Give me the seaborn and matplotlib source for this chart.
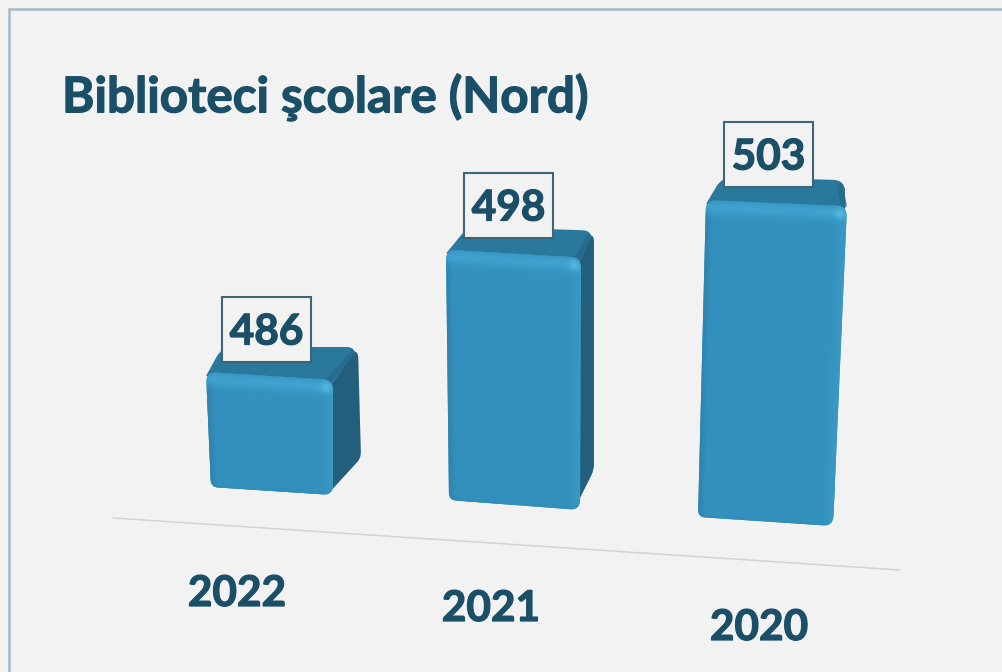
import numpy as np
import pandas as pd
import seaborn as sns
import matplotlib
matplotlib.use('Agg')
import matplotlib.pyplot as plt
import matplotlib.patheffects as pe
from matplotlib.colors import to_rgb
from matplotlib.patches import PathPatch, Rectangle
from matplotlib.path import Path

# chart values
years = ['2022', '2021', '2020']
values = [486, 498, 503]
title = 'Biblioteci şcolare (Nord)'

W, H = 1002, 672
BASE = 476          # value where the bars start
PX_PER_UNIT = 11.7
BASE_PX = 505

BG = '#f2f2f2'
TEXT = '#1b4f68'
FRONT = '#3491bd'
TOP_FACE = '#2a789c'
SIDE_FACE = '#235f7c'

# perspective: corner shifts of each front face (TL, TR, BR, BL), in pixels
front_shift = [
    [(1, -16), (-2, -8), (-2, -10), (6, -18)],
    [(-9, 2), (-4, 10), (-5, 5), (-6, -5)],
    [(1, 11), (12, 17), (-2, 21), (-7, 12)],
]
# back corners relative to the front TL / TR / BR corner
back_shift = [
    [(16, -25), (25, -33), (28, -37)],
    [(22, -23), (13, -27), (14, -40)],
    [(16, -23), (-2, -26), (0, -60)],
]
label_pos = [(266.5, 329.5), (508.5, 205.5), (768.5, 154.5)]
year_pos = [(237, 594), (491, 609), (759, 628)]

# a thin stroke brings Lato Bold up to the weight of the original face
heavy = [pe.withStroke(linewidth=0.9, foreground=TEXT)]


def rounded(points, radii):
    # closed polygon with quadratic rounded corners
    pts = [np.array(p, dtype=float) for p in points]
    n = len(pts)
    verts, codes = [], []
    for i in range(n):
        prev, cur, nxt = pts[i - 1], pts[i], pts[(i + 1) % n]
        r = radii[i]
        a = cur + (prev - cur) / np.linalg.norm(prev - cur) * r
        b = cur + (nxt - cur) / np.linalg.norm(nxt - cur) * r
        verts.append(a)
        codes.append(Path.MOVETO if i == 0 else Path.LINETO)
        verts += [cur, b]
        codes += [Path.CURVE3, Path.CURVE3]
    verts.append(verts[0])
    codes.append(Path.CLOSEPOLY)
    return Path(verts, codes)


def mix(img, color, amount):
    c = np.array(to_rgb(color))
    a = np.clip(amount, 0, 1)[..., None]
    return img * (1 - a) + c * a


def front_shading(q):
    # q = TL, TR, BR, BL in pixels; shaded image of the front face
    (tlx, tly), (trx, try_), (brx, bry), (blx, bly) = q
    x0, x1 = int(min(tlx, blx)) - 2, int(max(trx, brx)) + 3
    y0, y1 = int(min(tly, try_)) - 2, int(max(bly, bry)) + 3
    xx, yy = np.meshgrid(np.arange(x0, x1) + 0.5, np.arange(y0, y1) + 0.5)
    xl = tlx + (blx - tlx) * (yy - tly) / (bly - tly)
    xr = trx + (brx - trx) * (yy - try_) / (bry - try_)
    yt = tly + (try_ - tly) * (xx - tlx) / (trx - tlx)
    yb = bly + (bry - bly) * (xx - blx) / (brx - blx)
    dl, dr, dt, db = xx - xl, xr - xx, yy - yt, yb - yy
    img = np.ones(xx.shape + (3,)) * np.array(to_rgb(FRONT))
    img = mix(img, '#2d7fa8', 0.7 * np.exp(-(dl / 5) ** 2))
    img = mix(img, '#3a9ac6', 0.7 * np.exp(-(dr / 9) ** 2))
    img = mix(img, '#3089b4', 0.5 * np.exp(-(db / 4) ** 2))
    img = mix(img, '#42a5d3', 0.85 * np.exp(-((dt - 7) / 7) ** 2))
    img = mix(img, '#55bde5', 0.8 * np.exp(-(((dr - 7) / 5) ** 2 + ((dt - 8) / 5) ** 2)))
    return img, (x0, x1, y1, y0)


sns.set_theme(style='white')
plt.rcParams['font.family'] = ['Lato', 'DejaVu Sans']

df = pd.DataFrame({'year': years, 'value': values})
df['height'] = df['value'] - BASE

fig = plt.figure(figsize=(W / 100, H / 100), dpi=100, facecolor=BG)
ax = fig.add_axes([0, 0, 1, 1])
sns.barplot(data=df, x='year', y='height', color=FRONT, saturation=1, width=0.52, ax=ax)
ax.set_xlim(-270 / 250, (W - 270) / 250)
ax.set_ylim((BASE_PX - H) / PX_PER_UNIT, BASE_PX / PX_PER_UNIT)
ax.axis('off')

# overlay in image pixels for the 3d look of the bars
px = fig.add_axes([0, 0, 1, 1], zorder=3)
px.set_xlim(0, W)
px.set_ylim(H, 0)
px.axis('off')

# frame of the slide and the sloped base line
px.plot([9, 9, W], [H, 9, 9], color='#a3b8cc', lw=1.8, solid_joinstyle='miter')
px.plot([113, 900], [518, 570], color='#d3d3d3', lw=1.1, zorder=1)

for i, bar in enumerate(ax.patches):
    x, w, h = bar.get_x(), bar.get_width(), bar.get_height()
    corners = ax.transData.transform([(x, h), (x + w, h), (x + w, 0), (x, 0)])
    corners = [(cx, H - cy) for cx, cy in corners]
    q = [(c[0] + s[0], c[1] + s[1]) for c, s in zip(corners, front_shift[i])]
    tl, tr, br, bl = q
    back_l = (tl[0] + back_shift[i][0][0], tl[1] + back_shift[i][0][1])
    back_r = (tr[0] + back_shift[i][1][0], tr[1] + back_shift[i][1][1])
    low_r = (br[0] + back_shift[i][2][0], br[1] + back_shift[i][2][1])

    side = rounded([(tr[0] - 6, tr[1]), back_r, low_r, (br[0] - 6, br[1])], [1, 12, 6, 1])
    px.add_patch(PathPatch(side, fc=SIDE_FACE, ec='none', zorder=2))
    top = rounded([(tl[0], tl[1] + 4), back_l, back_r, (tr[0] - 2, tr[1] + 6)], [1, 11, 12, 1])
    px.add_patch(PathPatch(top, fc=TOP_FACE, ec='none', zorder=3))
    # soft seam between the top and the side
    px.plot([tr[0] - 3, back_r[0] - 5], [tr[1] - 1, back_r[1] + 6], color='#27698a',
            lw=4, alpha=0.8, solid_capstyle='round', zorder=3)

    face = rounded(q, [10, 10, 10, 7])
    face_patch = PathPatch(face, fc=FRONT, ec='none', zorder=4)
    px.add_patch(face_patch)
    bar.set_clip_path(face, px.transData)
    img, extent = front_shading(q)
    im = px.imshow(img, extent=extent, aspect='auto', zorder=5, interpolation='bilinear')
    im.set_clip_path(face_patch)

    # value box and year
    lx, ly = label_pos[i]
    px.add_patch(Rectangle((lx - 44.5, ly - 32.5), 89, 65, fc=BG, ec='#3f6675', lw=1.5, zorder=6))
    px.text(lx, ly + 3, str(values[i]), ha='center', va='center', fontsize=30.5,
            fontweight='bold', color=TEXT, zorder=7, path_effects=heavy)
    yx, yy = year_pos[i]
    px.text(yx, yy, years[i], ha='center', va='center', fontsize=30.5,
            fontweight='bold', color=TEXT, zorder=7, path_effects=heavy)

px.text(62, 97, title, ha='left', va='center', fontsize=35.5, fontweight='bold', color=TEXT,
        path_effects=heavy)

px.set_xlim(0, W)
px.set_ylim(H, 0)
fig.savefig('out.png', dpi=100, facecolor=BG)
